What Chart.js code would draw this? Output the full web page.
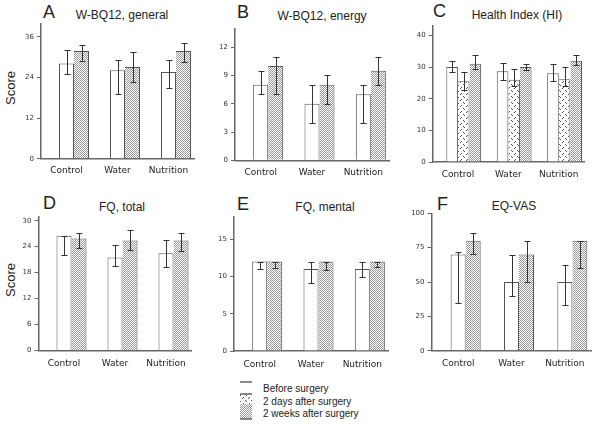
<!DOCTYPE html>
<html>
<head>
<meta charset="utf-8">
<script src="https://cdn.jsdelivr.net/npm/chart.js@4.4.0/dist/chart.umd.min.js"></script>
<style>
  body { margin: 0; background: #fff; }
  #page { position: relative; width: 600px; height: 430px; overflow: hidden; font-family: "Liberation Sans", Arial, sans-serif; color: #222; }
  #page canvas { position: absolute; }
  .letter { position: absolute; font-size: 18px; line-height: 18px; }
  .title { position: absolute; font-size: 12px; line-height: 12px; transform: translate(-50%, -50%); white-space: nowrap; }
  .ylabel { position: absolute; font-size: 13px; line-height: 13px; transform: translate(-50%, -50%) rotate(-90deg); }
  .legend-item { position: absolute; left: 263px; font-size: 10px; line-height: 10px; transform: translateY(-50%); white-space: nowrap; }
</style>
</head>
<body>
<div id="page">
  <div class="letter" style="left:43px;top:3px">A</div>
  <div class="letter" style="left:237px;top:3px">B</div>
  <div class="letter" style="left:433px;top:2px">C</div>
  <div class="letter" style="left:43px;top:194px">D</div>
  <div class="letter" style="left:237px;top:195px">E</div>
  <div class="letter" style="left:437px;top:195px">F</div>

  <div class="title" style="left:122px;top:15px">W-BQ12, general</div>
  <div class="title" style="left:322px;top:16px">W-BQ12, energy</div>
  <div class="title" style="left:517px;top:15px">Health Index (HI)</div>
  <div class="title" style="left:122px;top:207px">FQ, total</div>
  <div class="title" style="left:325px;top:207px">FQ, mental</div>
  <div class="title" style="left:514px;top:206px">EQ-VAS</div>

  <div class="ylabel" style="left:10px;top:88px">Score</div>
  <div class="ylabel" style="left:10px;top:280px">Score</div>

  <canvas id="legend-swatch" width="14" height="46" style="left:239px;top:376px"></canvas>
  <div class="legend-item" style="top:389px">Before surgery</div>
  <div class="legend-item" style="top:401.5px">2 days after surgery</div>
  <div class="legend-item" style="top:413.5px">2 weeks after surgery</div>
</div>

<script>
// --- DATA (median bars with low/high whiskers) ---
const categories = ['Control', 'Water', 'Nutrition'];

// A: W-BQ12, general
const generalBefore = [28.1, 26.1, 25.6];
const generalBeforeLow = [25.0, 19.0, 21.0];
const generalBeforeHigh = [32.1, 29.1, 29.1];
const generalWeeks = [31.8, 27.1, 31.8];
const generalWeeksLow = [28.9, 22.7, 28.6];
const generalWeeksHigh = [33.5, 31.6, 34.1];
const generalTicks = [0, 12, 24, 36];

// B: W-BQ12, energy
const energyBefore = [8, 6, 7];
const energyBeforeLow = [7, 4, 4];
const energyBeforeHigh = [9.5, 8, 8];
const energyWeeks = [10, 8, 9.5];
const energyWeeksLow = [7, 6, 8];
const energyWeeksHigh = [11, 9, 11];
const energyTicks = [0, 3, 6, 9, 12];

// C: Health Index
const hiBefore = [30, 28.7, 28.1];
const hiBeforeLow = [28.5, 26, 25.5];
const hiBeforeHigh = [31.9, 31.3, 30.9];
const hiDays = [25.5, 26, 26.2];
const hiDaysLow = [22.9, 23.9, 23.9];
const hiDaysHigh = [28.6, 29.4, 30];
const hiWeeks = [31.1, 30, 32];
const hiWeeksLow = [29.5, 29, 30.8];
const hiWeeksHigh = [33.9, 31.1, 33.9];
const hiTicks = [0, 10, 20, 30, 40];

// D: FQ, total
const fqTotalBefore = [26.5, 21.5, 22.5];
const fqTotalBeforeLow = [22.1, 19.5, 19.2];
const fqTotalBeforeHigh = [26.5, 24.4, 25.5];
const fqTotalWeeks = [25.9, 25.4, 25.4];
const fqTotalWeeksLow = [23.8, 23.2, 23.1];
const fqTotalWeeksHigh = [27.1, 27.8, 27.1];
const fqTotalTicks = [0, 6, 12, 18, 24, 30];

// E: FQ, mental
const fqMentalBefore = [12, 11, 11];
const fqMentalBeforeLow = [11, 9.1, 10];
const fqMentalBeforeHigh = [12, 12, 12];
const fqMentalWeeks = [12, 12, 12];
const fqMentalWeeksLow = [11.1, 10.9, 11.3];
const fqMentalWeeksHigh = [12, 12, 12];
const fqMentalTicks = [0, 5, 10, 15];

// F: EQ-VAS
const vasBefore = [70, 50, 50];
const vasBeforeLow = [34.6, 40, 33.1];
const vasBeforeHigh = [72.1, 70, 62.7];
const vasWeeks = [80, 70, 80];
const vasWeeksLow = [70.2, 50, 60];
const vasWeeksHigh = [85.4, 80, 80];
const vasTicks = [0, 25, 50, 75, 100];

// --- FILL PATTERNS ---
function makeDots() {
    const tile = document.createElement('canvas');
    tile.width = 2; tile.height = 2;
    const c = tile.getContext('2d');
    c.fillStyle = '#fff'; c.fillRect(0, 0, 2, 2);
    c.fillStyle = '#999';
    c.fillRect(0, 0, 1, 1);
    c.fillRect(1, 1, 1, 1);
    return c.createPattern(tile, 'repeat');
}

function makeHatch() {
    const tile = document.createElement('canvas');
    tile.width = 6; tile.height = 6;
    const c = tile.getContext('2d');
    c.fillStyle = '#fff'; c.fillRect(0, 0, 6, 6);
    c.fillStyle = '#555';
    [[0, 0], [1, 1], [4, 3], [3, 4]].forEach(([x, y]) => c.fillRect(x, y, 1, 1));
    return c.createPattern(tile, 'repeat');
}

const dots = makeDots();
const hatch = makeHatch();

Chart.defaults.font.family = '"DejaVu Sans", Verdana, sans-serif';
Chart.defaults.color = '#222';

// whiskers drawn from the low/high arrays on each dataset
const errorBarsPlugin = {
    id: 'errorBars',
    afterDatasetsDraw(chart) {
        const ctx = chart.ctx;
        const yScale = chart.scales.y;
        chart.data.datasets.forEach((ds, i) => {
            if (!ds.errLow) return;
            chart.getDatasetMeta(i).data.forEach((bar, j) => {
                const x = Math.round(bar.x) + 0.5;
                const yLo = Math.round(yScale.getPixelForValue(ds.errLow[j])) + 0.5;
                const yHi = Math.round(yScale.getPixelForValue(ds.errHigh[j])) + 0.5;
                ctx.save();
                ctx.strokeStyle = '#333';
                ctx.lineWidth = 1;
                ctx.beginPath();
                ctx.moveTo(x, yLo); ctx.lineTo(x, yHi);
                ctx.moveTo(x - 3, yLo); ctx.lineTo(x + 3, yLo);
                ctx.moveTo(x - 3, yHi); ctx.lineTo(x + 3, yHi);
                ctx.stroke();
                ctx.restore();
            });
        });
    }
};

function makePanel(p) {
    const canvas = document.createElement('canvas');
    canvas.width = p.w;
    canvas.height = p.h;
    canvas.style.left = p.cx + 'px';
    canvas.style.top = p.cy + 'px';
    document.getElementById('page').appendChild(canvas);

    const yWidth = p.axisX - p.cx;
    const catPct = p.barW * (p.series.length + 1) / (p.plotW / categories.length);

    // empty first slot pushes the bars to the right of the category labels, as in the figure
    const datasets = [{ data: categories.map(() => null) }];
    p.series.forEach((s, k) => datasets.push({
        data: s.values,
        errLow: s.low,
        errHigh: s.high,
        backgroundColor: s.fill,
        borderColor: '#555',
        borderWidth: { top: 1, left: k === 0 ? 1 : 0, right: 1, bottom: 0 }
    }));

    new Chart(canvas, {
        type: 'bar',
        data: { labels: categories, datasets },
        options: {
            responsive: false,
            animation: false,
            layout: { padding: { left: 0, top: p.topY - p.cy, right: p.w - yWidth - p.plotW, bottom: 0 } },
            datasets: { bar: { barPercentage: 1, categoryPercentage: catPct } },
            plugins: { legend: { display: false }, tooltip: { enabled: false } },
            scales: {
                x: {
                    grid: { display: false, drawTicks: false },
                    border: { color: '#666', width: 1.5 },
                    ticks: { color: '#222', font: { size: 9 }, padding: p.labelPad },
                    afterFit: (s) => { s.height = p.h - (p.zeroY - p.cy); }
                },
                y: {
                    min: 0,
                    max: p.max,
                    grid: { drawOnChartArea: false, tickLength: 4, color: '#666', lineWidth: 1 },
                    border: { color: '#666', width: 1.5 },
                    ticks: { color: '#333', font: { size: 7 }, padding: 3 },
                    afterBuildTicks: (s) => { s.ticks = p.ticks.map(v => ({ value: v })); },
                    afterFit: (s) => { s.width = yWidth; }
                }
            }
        },
        plugins: [errorBarsPlugin]
    });
}

// --- PANELS ---
makePanel({
    cx: 0, cy: 0, w: 200, h: 185, axisX: 41, topY: 23.3, zeroY: 158.7, plotW: 153, max: 40,
    ticks: generalTicks, barW: 15, labelPad: 7,
    series: [
        { values: generalBefore, low: generalBeforeLow, high: generalBeforeHigh, fill: '#fff' },
        { values: generalWeeks, low: generalWeeksLow, high: generalWeeksHigh, fill: dots }
    ]
});

makePanel({
    cx: 197, cy: 0, w: 200, h: 185, axisX: 235, topY: 28.3, zeroY: 160.3, plotW: 154, max: 14,
    ticks: energyTicks, barW: 15, labelPad: 7,
    series: [
        { values: energyBefore, low: energyBeforeLow, high: energyBeforeHigh, fill: '#fff' },
        { values: energyWeeks, low: energyWeeksLow, high: energyWeeksHigh, fill: dots }
    ]
});

makePanel({
    cx: 397, cy: 0, w: 203, h: 185, axisX: 432.7, topY: 26, zeroY: 162, plotW: 151.3, max: 43,
    ticks: hiTicks, barW: 11.6, labelPad: 7,
    series: [
        { values: hiBefore, low: hiBeforeLow, high: hiBeforeHigh, fill: '#fff' },
        { values: hiDays, low: hiDaysLow, high: hiDaysHigh, fill: hatch },
        { values: hiWeeks, low: hiWeeksLow, high: hiWeeksHigh, fill: dots }
    ]
});

makePanel({
    cx: 0, cy: 195, w: 200, h: 180, axisX: 38.5, topY: 216.4, zeroY: 350.5, plotW: 153, max: 31,
    ticks: fqTotalTicks, barW: 15, labelPad: 8,
    series: [
        { values: fqTotalBefore, low: fqTotalBeforeLow, high: fqTotalBeforeHigh, fill: '#fff' },
        { values: fqTotalWeeks, low: fqTotalWeeksLow, high: fqTotalWeeksHigh, fill: dots }
    ]
});

makePanel({
    cx: 197, cy: 195, w: 200, h: 180, axisX: 234, topY: 216.9, zeroY: 351, plotW: 154, max: 18,
    ticks: fqMentalTicks, barW: 15, labelPad: 8,
    series: [
        { values: fqMentalBefore, low: fqMentalBeforeLow, high: fqMentalBeforeHigh, fill: '#fff' },
        { values: fqMentalWeeks, low: fqMentalWeeksLow, high: fqMentalWeeksHigh, fill: dots }
    ]
});

makePanel({
    cx: 397, cy: 195, w: 203, h: 180, axisX: 431.5, topY: 213.3, zeroY: 350.7, plotW: 160, max: 100,
    ticks: vasTicks, barW: 15, labelPad: 8,
    series: [
        { values: vasBefore, low: vasBeforeLow, high: vasBeforeHigh, fill: '#fff' },
        { values: vasWeeks, low: vasWeeksLow, high: vasWeeksHigh, fill: dots }
    ]
});

// --- LEGEND SWATCHES ---
(function drawLegendSwatch() {
    const c = document.getElementById('legend-swatch').getContext('2d');
    c.strokeStyle = '#666';
    c.lineWidth = 1.5;
    c.beginPath(); c.moveTo(1, 6); c.lineTo(13, 6); c.stroke();
    c.fillStyle = hatch; c.fillRect(1, 18, 12, 10);
    c.beginPath(); c.moveTo(1, 18); c.lineTo(13, 18); c.stroke();
    c.fillStyle = dots; c.fillRect(1, 28, 12, 15);
    c.beginPath(); c.moveTo(1, 43); c.lineTo(13, 43); c.stroke();
})();
</script>
</body>
</html>
